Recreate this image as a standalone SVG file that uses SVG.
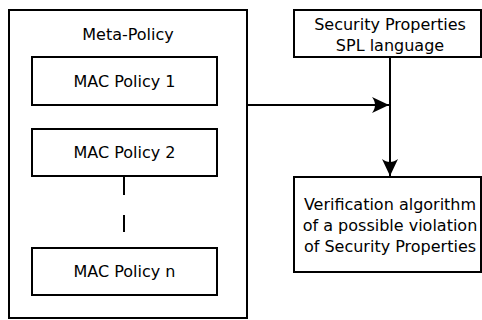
<svg xmlns="http://www.w3.org/2000/svg" width="482" height="320" viewBox="0 0 482 320">
  <style>
    .box { fill: #ffffff; stroke: #000000; stroke-width: 2; }
    .lbl { font-family: "DejaVu Sans", "Liberation Sans", sans-serif; font-size: 16px; fill: #000000; text-anchor: middle; }
    .wire { fill: none; stroke: #000000; stroke-width: 2; }
  </style>
  <defs>
    <marker id="arrow" viewBox="-18 -9 20 18" refX="0" refY="0" markerWidth="20" markerHeight="18" markerUnits="userSpaceOnUse" orient="auto">
      <path d="M0,0 L-17,-8 C-13,-3 -13,3 -17,8 Z" fill="#000000"/>
    </marker>
  </defs>
  <rect width="482" height="320" fill="#ffffff"/>

  <g id="meta-policy">
    <rect class="box" x="9" y="10" width="238" height="308"/>
    <text class="lbl" x="128" y="40">Meta-Policy</text>
  </g>
  <g id="mac-policy-1">
    <rect class="box" x="32" y="57" width="185" height="48"/>
    <text class="lbl" x="124.5" y="87">MAC Policy 1</text>
  </g>
  <g id="mac-policy-2">
    <rect class="box" x="32" y="129" width="185" height="47"/>
    <text class="lbl" x="124.5" y="158">MAC Policy 2</text>
  </g>
  <g id="mac-policy-n">
    <rect class="box" x="32" y="248" width="185" height="47"/>
    <text class="lbl" x="124.5" y="277">MAC Policy n</text>
  </g>
  <g id="security-properties">
    <rect class="box" x="294" y="10" width="187" height="47"/>
    <text class="lbl" x="390" y="30">Security Properties</text>
    <text class="lbl" x="390" y="51">SPL language</text>
  </g>
  <g id="verification">
    <rect class="box" x="294" y="177" width="187" height="95"/>
    <text class="lbl" x="390" y="210">Verification algorithm</text>
    <text class="lbl" x="390" y="231">of a possible violation</text>
    <text class="lbl" x="390" y="252">of Security Properties</text>
  </g>

  <g id="connectors">
    <!-- elided policies between 2 and n -->
    <line class="wire" x1="124" y1="177" x2="124" y2="195"/>
    <line class="wire" x1="124" y1="215" x2="124" y2="232"/>
    <!-- meta-policy into the property stream -->
    <line class="wire" x1="247" y1="105" x2="389" y2="105" marker-end="url(#arrow)"/>
    <!-- properties down to verification -->
    <line class="wire" x1="390" y1="57" x2="390" y2="176" marker-end="url(#arrow)"/>
  </g>
</svg>
